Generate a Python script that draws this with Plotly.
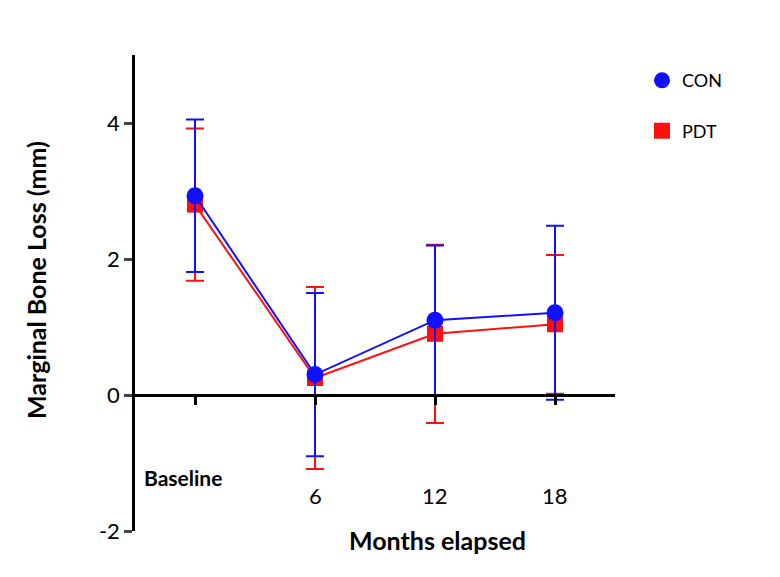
import plotly.graph_objects as go

categories = ["Baseline", "6", "12", "18"]
con_mean = [2.93, 0.30, 1.10, 1.21]
con_sd = [1.12, 1.20, 1.10, 1.28]
pdt_mean = [2.80, 0.25, 0.90, 1.04]
pdt_sd = [1.12, 1.34, 1.31, 1.02]
y_ticks = [-2, 0, 2, 4]

BLUE = "#1010ff"
RED = "#ff1010"
FONT = "Lato"

xpos = list(range(len(categories)))

L, R, T, B = 135, 165, 55, 46
PW = 780 - L - R
PH = 577 - T - B

fig = go.Figure()
fig.add_trace(go.Scatter(
    x=xpos, y=pdt_mean, mode="lines+markers", name="PDT", showlegend=False,
    line=dict(color=RED, width=2),
    marker=dict(symbol="square", size=16, color=RED),
    error_y=dict(type="data", array=pdt_sd, visible=True, color=RED, thickness=2, width=9),
))
fig.add_trace(go.Scatter(
    x=xpos, y=con_mean, mode="lines+markers", name="CON", showlegend=False,
    line=dict(color=BLUE, width=2),
    marker=dict(symbol="circle", size=17, color=BLUE),
    error_y=dict(type="data", array=con_sd, visible=True, color=BLUE, thickness=2, width=9),
))
# legend-only entries
fig.add_trace(go.Scatter(x=[None], y=[None], mode="markers", name="CON", legendgroup="a",
                         marker=dict(symbol="circle", size=17, color=BLUE)))
fig.add_trace(go.Scatter(x=[None], y=[None], mode="markers", name="PDT", legendgroup="b",
                         marker=dict(symbol="square", size=16, color=RED)))

# tick label annotations for x axis
for i, c in enumerate(categories):
    if c == "Baseline":
        fig.add_annotation(x=i, y=-1.22, text="<b>Baseline</b>", showarrow=False,
                           xanchor="center", yanchor="middle", font=dict(size=21, color="black", family=FONT),
                           xshift=-12)
    else:
        fig.add_annotation(x=i, y=-1.48, text=c, showarrow=False,
                           xanchor="center", yanchor="middle", font=dict(size=22, color="black", family=FONT))

fig.update_layout(
    width=780, height=577,
    margin=dict(l=L, r=R, t=T, b=B),
    plot_bgcolor="white", paper_bgcolor="white",
    font=dict(family=FONT, color="black"),
    legend=dict(x=(642 - L) / PW, y=0.985, xanchor="left", yanchor="top", tracegroupgap=24,
                font=dict(size=18, family=FONT), bgcolor="rgba(0,0,0,0)", itemwidth=30),
    xaxis=dict(range=[-0.5, 3.5], showgrid=False, zeroline=False, showline=True,
               linecolor="black", linewidth=2.5, anchor="free", position=2/7,
               ticks="outside", ticklen=8, tickwidth=2.5, tickcolor="black",
               tickvals=xpos, showticklabels=False,
               title=None),
    yaxis=dict(range=[-2, 5], showgrid=False, zeroline=False, showline=True,
               linecolor="black", linewidth=2.5, ticks="outside", ticklen=8, tickwidth=2.5,
               tickvals=y_ticks, ticktext=[str(v) for v in y_ticks],
               tickfont=dict(size=22, family=FONT), title=None),
)
fig.add_annotation(xref="paper", yref="paper", x=(36 - L) / PW, y=(531 - 280) / PH,
                   text="<b>Marginal Bone Loss (mm)</b>", showarrow=False, textangle=-90,
                   xanchor="center", yanchor="middle",
                   font=dict(size=25, family=FONT, color="black"))
fig.add_annotation(xref="paper", yref="paper", x=(437 - L) / PW, y=(531 - 540) / PH,
                   text="<b>Months elapsed</b>", showarrow=False, xanchor="center", yanchor="middle",
                   font=dict(size=25, family=FONT, color="black"))

fig.write_html("out.html")
